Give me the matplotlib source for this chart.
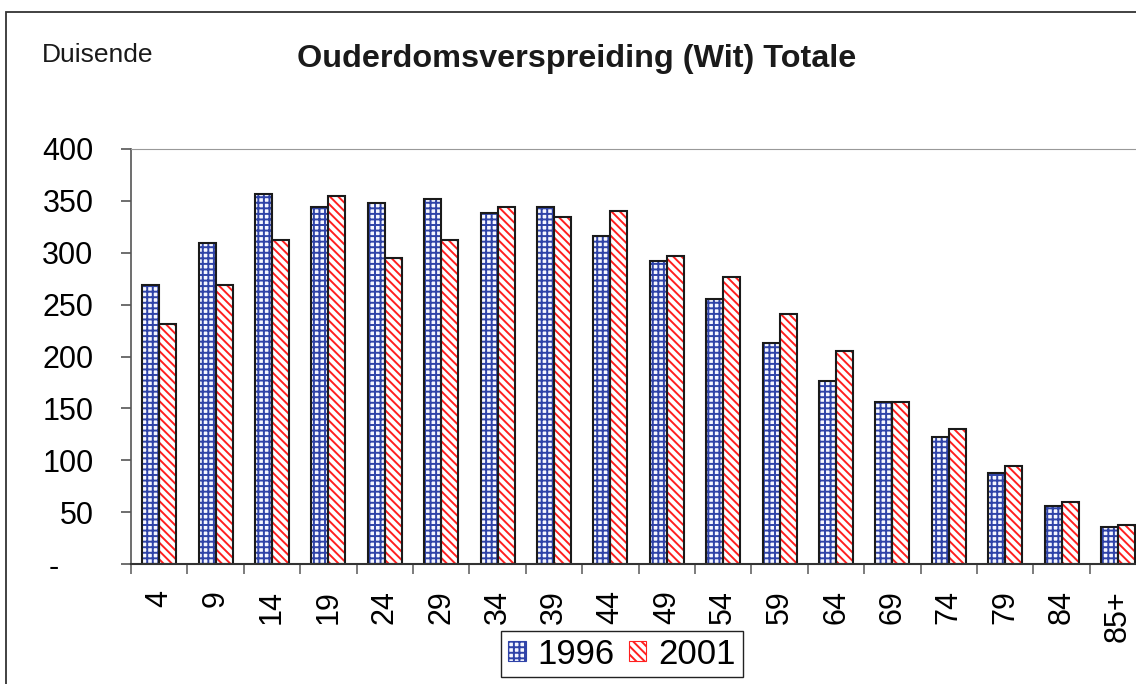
import matplotlib
matplotlib.use('Agg')
import matplotlib.pyplot as plt
from matplotlib.patches import Patch, Rectangle
import numpy as np

plt.rcParams['font.family'] = ['Liberation Sans', 'DejaVu Sans']
plt.rcParams['hatch.linewidth'] = 1.4

# data (thousands)
age_groups = ['4', '9', '14', '19', '24', '29', '34', '39', '44', '49',
              '54', '59', '64', '69', '74', '79', '84', '85+']
pop_1996 = [269, 309, 357, 344, 348, 352, 338, 344, 316, 292,
            255, 213, 176, 156, 122, 88, 56, 36]
pop_2001 = [231, 269, 312, 355, 295, 312, 344, 334, 340, 297,
            277, 241, 205, 156, 130, 94, 60, 38]
y_ticks = [0, 50, 100, 150, 200, 250, 300, 350, 400]
y_labels = ['-    ', '50', '100', '150', '200', '250', '300', '350', '400']

fig = plt.figure(figsize=(11.36, 6.84), dpi=100)
ax = fig.add_axes([131/1136, 1 - 564/684, 1 - 131/1136, (564 - 149)/684])

x = np.arange(len(age_groups)) + 0.5
w = 0.3
blue = '#2f43a8'
red = '#ff1f1f'
grid_hatch = '+++'
stripe_hatch = '\\\\\\\\'

# hatched fills
ax.bar(x - w/2, pop_1996, w, color='#f6f7ff', edgecolor=blue, hatch=grid_hatch, linewidth=0)
ax.bar(x + w/2, pop_2001, w, color='white', edgecolor=red, hatch=stripe_hatch, linewidth=0)
# outlines
ax.bar(x - w/2, pop_1996, w, fill=False, edgecolor='#1a1a1a', linewidth=1.5)
ax.bar(x + w/2, pop_2001, w, fill=False, edgecolor='#1a1a1a', linewidth=1.5)

ax.set_xlim(0, (1136 - 131)/56.4)
ax.set_ylim(0, 400)

ax.set_yticks(y_ticks)
ax.set_yticklabels(y_labels, fontsize=22)
ax.tick_params(axis='y', direction='out', length=7, width=1.2, color='#555555', pad=20)

ax.set_xticks(x)
ax.set_xticklabels(age_groups, rotation=90, fontsize=22)
ax.set_xticks(np.arange(len(age_groups)), minor=True)
ax.tick_params(axis='x', which='major', length=0, pad=19)
ax.tick_params(axis='x', which='minor', direction='out', length=7, width=1.2, color='#666666')

ax.spines['right'].set_visible(False)
ax.spines['top'].set_color('#999999')
ax.spines['left'].set_color('#555555')
ax.spines['bottom'].set_color('#333333')
ax.spines['left'].set_linewidth(1.2)
ax.spines['bottom'].set_linewidth(1.5)

fig.text(577/1136, 1 - 67/684, 'Ouderdomsverspreiding (Wit) Totale',
         ha='center', va='baseline', fontsize=23.3, fontweight='bold', color='#1a1a1a')
fig.text(42/1136, 1 - 62/684, 'Duisende', ha='left', va='baseline', fontsize=19, color='#1a1a1a')

handles = [Patch(facecolor='#f6f7ff', edgecolor=blue, hatch=grid_hatch, linewidth=0.8),
           Patch(facecolor='white', edgecolor=red, hatch=stripe_hatch, linewidth=0.8)]
leg = fig.legend(handles, ['1996', '2001'], loc='center', ncol=2,
                 bbox_to_anchor=(622/1136, 1 - 654/684), fontsize=25,
                 handlelength=0.5, handleheight=0.5, handletextpad=0.35,
                 columnspacing=0.4, borderpad=0.2, fancybox=False, framealpha=1)
leg.get_frame().set_edgecolor('#222222')
leg.get_frame().set_linewidth(1.0)

# outer chart border
fig.patches.append(Rectangle((6/1136, -0.1), 1.2, 1 - 12/684 + 0.1, transform=fig.transFigure,
                             fill=False, edgecolor='#333333', linewidth=1.3))

fig.savefig('out.png', dpi=100)
